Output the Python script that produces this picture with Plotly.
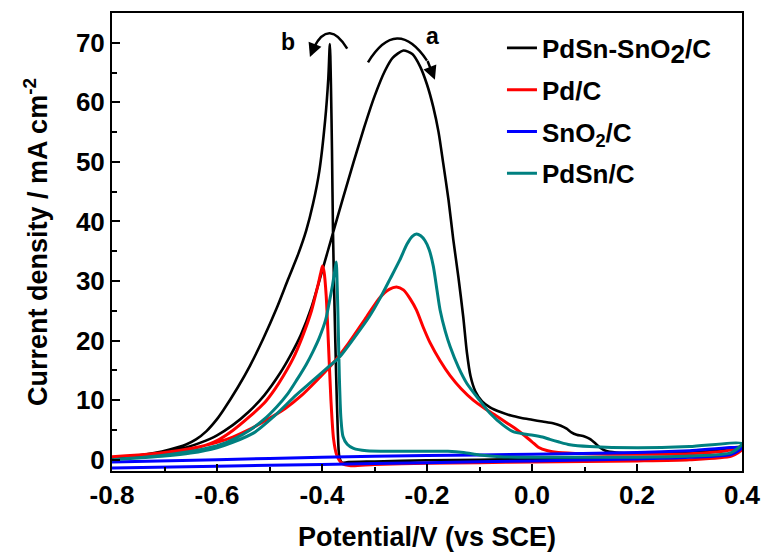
import plotly.graph_objects as go

# ---------------- data ----------------
# Each loop: forward scan (-0.8 -> 0.4) followed by reverse scan (0.4 -> -0.8)
pdsn_sno2_x = [-0.80, -0.76, -0.72, -0.69, -0.66, -0.63, -0.60, -0.57, -0.54, -0.51, -0.48, -0.46,
               -0.44, -0.42, -0.40, -0.38, -0.36, -0.34, -0.32, -0.30, -0.28, -0.265, -0.245, -0.228,
               -0.213, -0.20, -0.188, -0.178, -0.169, -0.159, -0.15, -0.14, -0.131, -0.124, -0.117,
               -0.108, -0.095, -0.08, -0.06, -0.04, -0.02, 0.0, 0.02, 0.04, 0.055, 0.066, 0.075, 0.085,
               0.10, 0.11, 0.12, 0.13, 0.14, 0.16, 0.20, 0.30, 0.35, 0.40,
               0.39, 0.37, 0.30, 0.20, 0.10, 0.0, -0.10, -0.20, -0.30, -0.35, -0.362, -0.367, -0.370,
               -0.373, -0.376, -0.379, -0.381, -0.383, -0.385, -0.388, -0.394, -0.405, -0.417, -0.43,
               -0.445, -0.465, -0.486, -0.512, -0.537, -0.56, -0.588, -0.60, -0.62, -0.64, -0.66,
               -0.69, -0.72, -0.75, -0.80]
pdsn_sno2_y = [0.3, 0.55, 0.95, 1.4, 2.0, 2.9, 4.1, 5.8, 8.0, 10.8, 14.5, 17.5,
               21.0, 25.6, 31.6, 37.8, 43.9, 49.9, 55.7, 61.0, 65.3, 67.5, 68.7, 68.1,
               66.0, 63.0, 59.2, 55.0, 49.7, 43.6, 37.0, 30.5, 24.0, 18.0, 14.0,
               11.5, 9.8, 8.8, 8.0, 7.4, 7.0, 6.7, 6.4, 6.1, 5.7, 5.2, 4.6, 4.2,
               3.9, 3.5, 2.8, 2.0, 1.5, 1.2, 1.1, 1.3, 1.6, 2.2,
               1.3, 0.8, 0.5, 0.3, 0.2, 0.1, 0.0, -0.1, -0.3, -0.4, -0.5, 0.5, 5.0,
               14.0, 25.0, 38.0, 52.0, 63.0, 69.8, 64.0, 57.0, 48.5, 43.0, 38.5,
               34.6, 30.2, 25.5, 20.3, 15.8, 12.2, 8.3, 6.8, 4.8, 3.4, 2.5,
               1.7, 1.1, 0.7, 0.3]

pd_x = [-0.80, -0.75, -0.70, -0.65, -0.60, -0.57, -0.54, -0.505, -0.47, -0.44, -0.41, -0.38,
        -0.35, -0.315, -0.29, -0.272, -0.258, -0.245, -0.232, -0.22, -0.207, -0.194, -0.175, -0.156,
        -0.135, -0.112, -0.09, -0.067, -0.045, -0.03, -0.015, 0.0, 0.012, 0.03, 0.05, 0.10, 0.20,
        0.30, 0.35, 0.40,
        0.38, 0.30, 0.20, 0.10, 0.0, -0.10, -0.20, -0.30, -0.345, -0.362, -0.372, -0.378, -0.383,
        -0.388, -0.392, -0.396, -0.399, -0.402, -0.408, -0.42, -0.438, -0.455, -0.474, -0.49,
        -0.51, -0.537, -0.57, -0.60, -0.63, -0.67, -0.72, -0.80]
pd_y = [0.5, 0.8, 1.2, 1.9, 2.9, 3.8, 5.0, 6.7, 8.6, 10.7, 13.3, 16.1,
        19.5, 24.0, 27.2, 28.6, 29.0, 28.5, 27.0, 25.1, 22.2, 19.6, 16.6, 14.1,
        11.9, 10.0, 8.6, 7.3, 6.0, 5.1, 4.1, 3.0, 2.1, 1.5, 1.2, 1.0, 0.9,
        1.0, 1.3, 1.7,
        0.6, 0.0, -0.2, -0.3, -0.4, -0.5, -0.6, -0.8, -1.0, -0.6, 0.8, 3.5, 10.0,
        20.0, 27.5, 31.5, 32.5, 31.5, 29.2, 25.0, 20.5, 17.0, 14.0, 11.8,
        9.5, 7.3, 4.9, 3.2, 2.2, 1.4, 0.9, 0.5]

sno2_x = [-0.80, -0.6, -0.4, -0.2, 0.0, 0.2, 0.3, 0.4,
          0.38, 0.3, 0.2, 0.0, -0.2, -0.4, -0.6, -0.80]
sno2_y = [-0.4, 0.0, 0.4, 0.7, 0.9, 1.2, 1.5, 2.0,
          0.9, 0.4, 0.1, -0.2, -0.5, -0.8, -1.1, -1.4]

pdsn_x = [-0.80, -0.75, -0.70, -0.65, -0.60, -0.57, -0.53, -0.49, -0.45, -0.42, -0.39, -0.366,
          -0.34, -0.31, -0.29, -0.27, -0.252, -0.238, -0.228, -0.22, -0.212, -0.204, -0.196, -0.188,
          -0.181, -0.175, -0.165, -0.156, -0.14, -0.124, -0.10, -0.08, -0.055, -0.036, -0.015, 0.002,
          0.02, 0.034, 0.05, 0.072, 0.11, 0.20, 0.30, 0.40,
          0.38, 0.30, 0.20, 0.10, 0.0, -0.06, -0.10, -0.13, -0.16, -0.265, -0.315, -0.34, -0.352,
          -0.36, -0.364, -0.367, -0.369, -0.371, -0.373, -0.376, -0.380, -0.386, -0.393, -0.405,
          -0.417, -0.43, -0.448, -0.465, -0.486, -0.51, -0.537, -0.565, -0.594, -0.63, -0.68, -0.74,
          -0.80]
pdsn_y = [0.0, 0.3, 0.6, 1.1, 2.0, 2.9, 4.5, 7.4, 10.8, 13.1, 15.4, 17.3,
          20.3, 24.0, 27.0, 30.4, 33.5, 36.2, 37.5, 37.9, 37.6, 36.8, 35.3, 32.5,
          28.5, 25.1, 21.5, 19.0, 15.5, 12.8, 10.0, 7.8, 5.8, 4.7, 4.3, 4.1,
          3.8, 3.4, 3.0, 2.5, 2.2, 2.0, 2.2, 2.7,
          1.2, 0.6, 0.4, 0.4, 0.4, 0.5, 0.8, 1.2, 1.4, 1.4, 1.5, 1.9, 2.6,
          3.9, 7.0, 14.0, 22.0, 29.0, 33.2, 31.5, 29.3, 26.5, 23.5, 20.5,
          18.2, 16.0, 13.4, 11.1, 8.9, 6.8, 5.0, 3.6, 2.5, 1.7, 1.0, 0.4,
          0.0]

series_names = ["PdSn-SnO<sub><span style='font-size:26px'>2</span></sub>/C", "Pd/C",
                "SnO<sub>2</sub>/C", "PdSn/C"]
series_colors = ["#000000", "#FF0000", "#0000FF", "#008080"]

x_tickvals = [-0.8, -0.6, -0.4, -0.2, 0.0, 0.2, 0.4]
x_ticktext = ["-0.8", "-0.6", "-0.4", "-0.2", "0.0", "0.2", "0.4"]
y_tickvals = [0, 10, 20, 30, 40, 50, 60, 70]
y_ticktext = ["0", "10", "20", "30", "40", "50", "60", "70"]

# ---------------- figure ----------------
FONT = "Liberation Sans, Arial, sans-serif"
fig = go.Figure()
xs = [pdsn_sno2_x, pd_x, sno2_x, pdsn_x]
ys = [pdsn_sno2_y, pd_y, sno2_y, pdsn_y]
widths = [2.6, 3.0, 3.0, 3.0]
for i in range(4):
    fig.add_trace(go.Scatter(
        x=xs[i], y=ys[i], mode="lines", name=series_names[i],
        line=dict(color=series_colors[i], width=widths[i], shape="spline", smoothing=0.7),
        legendgroup=str(i),
    ))

axis_font = dict(family=FONT, size=26, color="black", weight="bold")
title_font = dict(family=FONT, size=27, color="black", weight="bold")

fig.update_xaxes(
    range=[-0.8, 0.4], tickmode="array", tickvals=x_tickvals, ticktext=x_ticktext,
    ticks="inside", ticklen=7, tickwidth=2, tickcolor="black",
    minor=dict(tickmode="linear", tick0=-0.8, dtick=0.1, ticks="inside", ticklen=4,
               tickwidth=2, tickcolor="black", showgrid=False),
    showline=True, linewidth=2, linecolor="black", mirror=True, automargin=False,
    showgrid=False, zeroline=False, tickfont=axis_font,
    title=dict(text="Potential/V (vs SCE)", font=title_font, standoff=20),
)
fig.update_yaxes(
    range=[-1.9, 75], tickmode="array", tickvals=y_tickvals, ticktext=y_ticktext,
    ticks="inside", ticklen=8, tickwidth=2, tickcolor="black",
    minor=dict(tickmode="linear", tick0=0, dtick=5, ticks="inside", ticklen=5,
               tickwidth=2, tickcolor="black", showgrid=False),
    showline=True, linewidth=2, linecolor="black", mirror=True, automargin=False,
    showgrid=False, zeroline=False, tickfont=axis_font,
    title=dict(text="Current density / mA cm<sup>-2</sup>", font=title_font, standoff=20),
)

# curved arrows (a and b)
fig.add_shape(type="path", xref="x", yref="y",
              path="M -0.352,69.0 Q -0.3865,74.05 -0.415,69.3",
              line=dict(color="black", width=2.5))
fig.add_shape(type="path", xref="x", yref="y",
              path="M -0.3124,66.7 Q -0.2578,74.55 -0.200,67.0",
              line=dict(color="black", width=2.5))
fig.add_annotation(x=-0.423, y=67.6, ax=-0.414, ay=69.6, xref="x", yref="y", axref="x", ayref="y",
                   text="", showarrow=True, arrowhead=2, arrowsize=1.1, arrowwidth=2.5, arrowcolor="black")
fig.add_annotation(x=-0.185, y=63.8, ax=-0.2, ay=67.2, xref="x", yref="y", axref="x", ayref="y",
                   text="", showarrow=True, arrowhead=2, arrowsize=1.1, arrowwidth=2.5, arrowcolor="black")
fig.add_annotation(x=-0.465, y=70.2, text="b", showarrow=False,
                   font=dict(family=FONT, size=23, color="black", weight="bold"))
fig.add_annotation(x=-0.1886, y=71.2, text="a", showarrow=False,
                   font=dict(family=FONT, size=23, color="black", weight="bold"))

fig.update_layout(
    width=763, height=552,
    margin=dict(l=112, r=21, t=13, b=81, autoexpand=False),
    paper_bgcolor="white", plot_bgcolor="white",
    font=dict(family=FONT, color="black"),
    showlegend=True,
    legend=dict(x=0.619, y=0.975, xanchor="left", yanchor="top",
                bgcolor="rgba(0,0,0,0)", borderwidth=0, traceorder="grouped",
                tracegroupgap=5,
                font=dict(family=FONT, size=26, color="black", weight="bold")),
)

fig.write_html("out.html")
